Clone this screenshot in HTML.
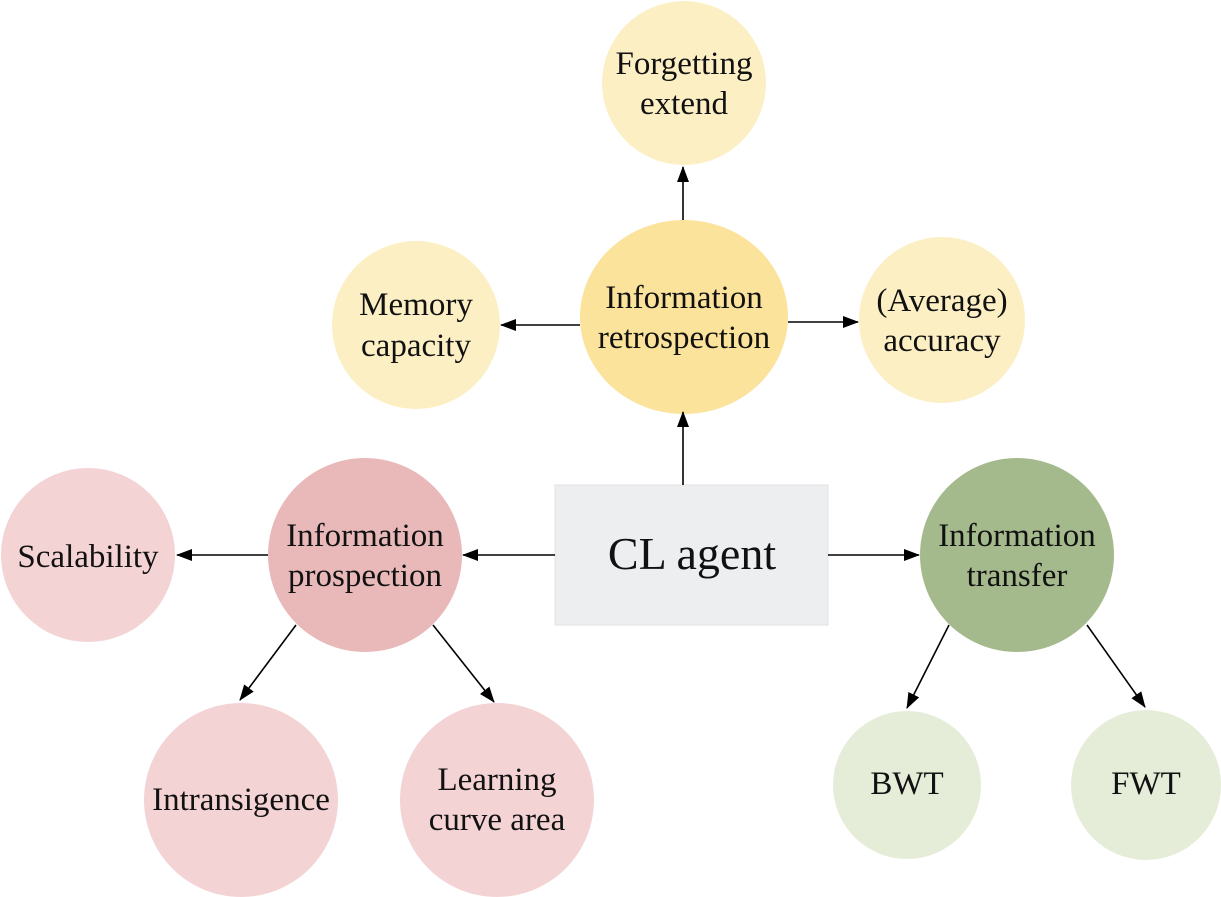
<!DOCTYPE html>
<html><head><meta charset="utf-8"><style>
html,body{margin:0;padding:0;background:#fff;}
svg{display:block;}
text{font-family:"Liberation Serif","Times New Roman",serif;fill:#111;text-anchor:middle;}
</style></head><body>
<svg width="1221" height="897" viewBox="0 0 1221 897" xmlns="http://www.w3.org/2000/svg">
<defs>
<marker id="b" markerWidth="16" markerHeight="12" refX="15" refY="6" orient="auto" markerUnits="userSpaceOnUse">
<path d="M0,0 L16,6 L0,12 z" fill="#000"/>
</marker>
</defs>
<ellipse cx="684" cy="83" rx="82" ry="82" fill="#fcefc4"/>
<ellipse cx="684" cy="317" rx="104" ry="97" fill="#fbe39c"/>
<ellipse cx="416" cy="325" rx="84" ry="84" fill="#fcefc4"/>
<ellipse cx="942" cy="320" rx="83" ry="83" fill="#fcefc4"/>
<ellipse cx="365" cy="555" rx="97" ry="97" fill="#e9b9b9"/>
<ellipse cx="88" cy="555" rx="87" ry="87" fill="#f4d3d5"/>
<ellipse cx="241" cy="800" rx="97" ry="97" fill="#f4d3d5"/>
<ellipse cx="497" cy="800" rx="97" ry="97" fill="#f4d3d5"/>
<ellipse cx="1017" cy="555" rx="97" ry="97" fill="#a5ba8c"/>
<ellipse cx="907" cy="785" rx="74" ry="74" fill="#e5edd8"/>
<ellipse cx="1146" cy="785" rx="75" ry="75" fill="#e5edd8"/>
<rect x="555" y="485" width="273" height="140" fill="#edeef0" stroke="#e2e3e5" stroke-width="1"/>
<g stroke="#000" stroke-width="1.6" fill="none">
<line x1="683" y1="485" x2="683" y2="412" marker-end="url(#b)"/>
<line x1="683" y1="220" x2="683" y2="167" marker-end="url(#b)"/>
<line x1="580" y1="325" x2="501" y2="325" marker-end="url(#b)"/>
<line x1="788" y1="322" x2="858" y2="322" marker-end="url(#b)"/>
<line x1="555" y1="555" x2="463" y2="555" marker-end="url(#b)"/>
<line x1="828" y1="555" x2="919" y2="555" marker-end="url(#b)"/>
<line x1="268" y1="555" x2="177" y2="555" marker-end="url(#b)"/>
<line x1="296" y1="625" x2="240" y2="700" marker-end="url(#b)"/>
<line x1="433" y1="625" x2="494" y2="702" marker-end="url(#b)"/>
<line x1="949" y1="625" x2="907" y2="708" marker-end="url(#b)"/>
<line x1="1087" y1="625" x2="1145" y2="707" marker-end="url(#b)"/>
</g>
<g font-size="33">
<text x="684" y="74">Forgetting</text><text x="684" y="114">extend</text>
<text x="684" y="308">Information</text><text x="684" y="348">retrospection</text>
<text x="416" y="315">Memory</text><text x="416" y="356">capacity</text>
<text x="942" y="311">(Average)</text><text x="942" y="351">accuracy</text>
<text x="365" y="546">Information</text><text x="365" y="586">prospection</text>
<text x="88" y="567">Scalability</text>
<text x="241" y="810">Intransigence</text>
<text x="497" y="790">Learning</text><text x="497" y="830">curve area</text>
<text x="1017" y="546">Information</text><text x="1017" y="586">transfer</text>
<text x="907" y="794">BWT</text>
<text x="1146" y="794">FWT</text>
</g>
<text x="692" y="569" font-size="46">CL agent</text>
</svg>
</body></html>
